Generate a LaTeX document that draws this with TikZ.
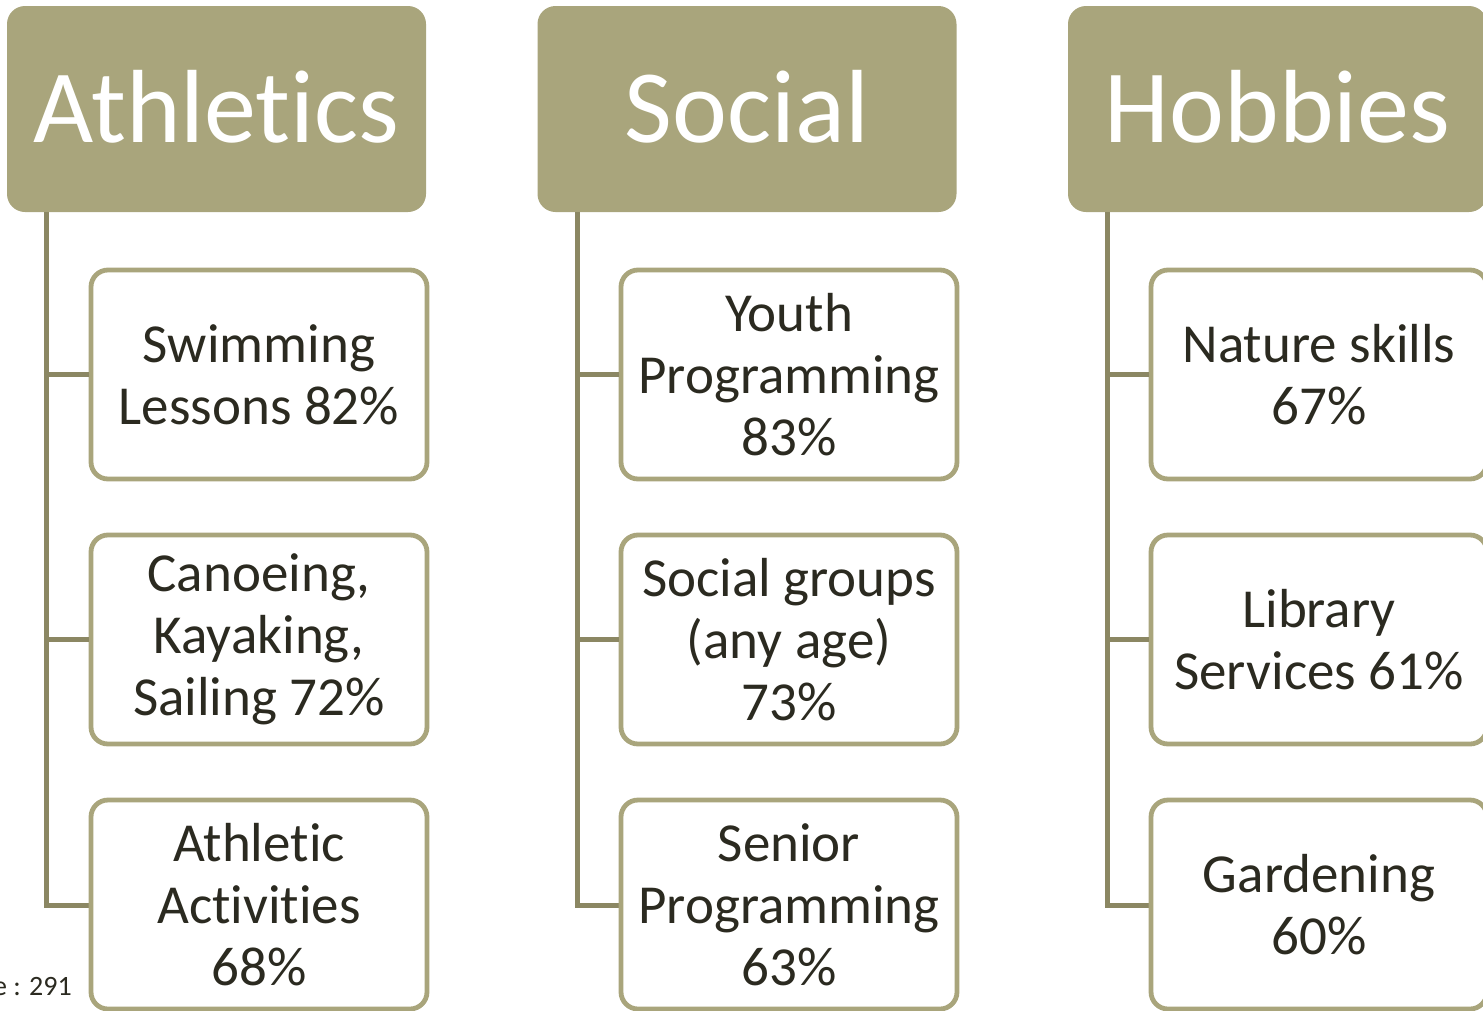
\documentclass[tikz,border=0pt]{standalone}
\usepackage{fontspec}
\setmainfont{Carlito}[Ligatures=NoCommon]
\definecolor{olive}{HTML}{A9A57C}
\definecolor{linec}{HTML}{8B8763}
\definecolor{txt}{HTML}{2B2A20}
\newcommand{\hdtext}[1]{\raisebox{6pt}{#1}}
\begin{document}
\begin{tikzpicture}[x=1pt,y=-1pt,
  header/.style={fill=olive, draw=none, rounded corners=18pt, minimum width=419pt, minimum height=206pt,
     inner sep=0pt, text=white, font=\fontsize{104}{110}\selectfont},
  item/.style={draw=olive, line width=4.8pt, fill=white, rounded corners=17pt, minimum width=336pt, minimum height=209pt,
     inner sep=0pt, text=txt, align=center, font=\fontsize{55}{62}\selectfont},
  conn/.style={draw=linec, line width=5pt}]
\useasboundingbox (0,0) rectangle (1483,1010);
\clip (0,0) rectangle (1483,1010);
% headers
\node[header] (ath) at (216.5,109) {\hdtext{Athletics}};
\node[header] (soc) at (747,109) {\hdtext{Social}};
\node[header] (hob) at (1277.5,109) {\hdtext{Hobbies}};
% connectors
\draw[conn] (ath.south west) ++(40,0) |- (259,905);
\draw[conn] (soc.south west) ++(40,0) |- (789,905);
\draw[conn] (hob.south west) ++(40,0) |- (1319,905);
% items
\node[item] (a1) at (259,374.5) {Swimming\\Lessons 82\%};
\node[item] (a2) at (259,639.5) {Canoeing,\\Kayaking,\\Sailing 72\%};
\node[item] (a3) at (259,904.5) {Athletic\\Activities\\68\%};
\node[item] (s1) at (789,374.5) {Youth\\Programming\\83\%};
\node[item] (s2) at (789,639.5) {Social groups\\(any age)\\73\%};
\node[item] (s3) at (789,904.5) {Senior\\Programming\\63\%};
\node[item] (h1) at (1319,374.5) {Nature skills\\67\%};
\node[item] (h2) at (1319,639.5) {Library\\Services 61\%};
\node[item] (h3) at (1319,904.5) {Gardening\\60\%};
% stubs
\draw[conn] (ath.south west) ++(40,0) |- (a1.west);
\draw[conn] (ath.south west) ++(40,0) |- (a2.west);
\draw[conn] (soc.south west) ++(40,0) |- (s1.west);
\draw[conn] (soc.south west) ++(40,0) |- (s2.west);
\draw[conn] (hob.south west) ++(40,0) |- (h1.west);
\draw[conn] (hob.south west) ++(40,0) |- (h2.west);
\node[anchor=base east, inner sep=0pt, text=txt, font=\fontsize{28}{30}\selectfont] (note) at (72,995) {e : 291};
\end{tikzpicture}
\end{document}
